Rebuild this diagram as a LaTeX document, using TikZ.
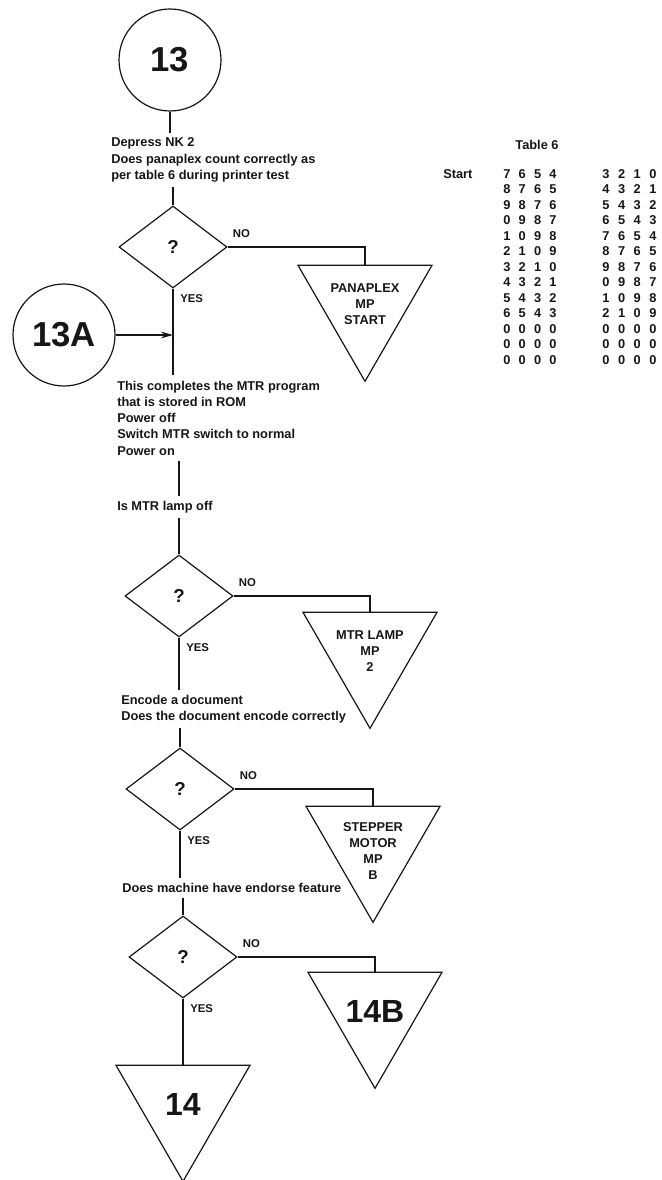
\documentclass[tikz,border=0pt]{standalone}
\usepackage{fontspec}
\setmainfont{Liberation Sans}
\usetikzlibrary{positioning,arrows.meta,shapes.geometric}
\definecolor{ink}{HTML}{161616}
\tikzset{
  flow/.style={line width=0.9pt, draw=ink},
  conn/.style={circle, draw=ink, line width=0.9pt, minimum size=76.5pt, inner sep=0pt,
    font=\bfseries\fontsize{26}{26}\selectfont, text=ink},
  ask/.style={diamond, draw=ink, line width=0.9pt, minimum width=81pt, minimum height=61.5pt,
    inner sep=0pt, font=\bfseries\fontsize{14}{14}\selectfont, text=ink},
  tri/.style={regular polygon, regular polygon sides=3, shape border rotate=180, draw=ink,
    line width=0.9pt, minimum size=116pt, inner sep=0pt, outer sep=0pt},
  trilab/.style={font=\bfseries\fontsize{9.6}{12}\selectfont, align=center, text=ink, inner sep=0pt},
  bignum/.style={font=\bfseries\fontsize{24}{24}\selectfont, text=ink, inner sep=0pt},
  txt/.style={font=\bfseries\fontsize{9.6}{12.2}\selectfont, align=left, text=ink,
    inner sep=0pt, outer ysep=4pt, anchor=west},
  yn/.style={font=\bfseries\fontsize{8.5}{8.5}\selectfont, text=ink, inner sep=0pt},
  tbl/.style={font=\bfseries\fontsize{9.6}{9.6}\selectfont, text=ink, inner sep=0pt},
  tip/.style={-{Stealth[length=9pt,width=5pt]}},
}
\begin{document}
\begin{tikzpicture}[x=0.75pt,y=-0.75pt]
  \useasboundingbox (0,0) rectangle (661,1180);

  % main column
  \node[conn] (c13) at (170,60) {13};
  \node[txt] (t1) at (111,160) {Depress NK 2\\Does panaplex count correctly as\\per table 6 during printer test};
  \node[ask] (q1) at (173,247) {?};
  \node[tri] (m1) at (365,304) {};
  \node[trilab] (m1t) at (m1.center) {PANAPLEX\\MP\\START};
  \node[conn] (c13a) at (64,335) {13A};
  \node[txt] (t2) at (117,418) {This completes the MTR program\\that is stored in ROM\\Power off\\Switch MTR switch to normal\\Power on};
  \node[txt] (t3) at (117,507) {Is MTR lamp off};
  \node[ask] (q2) at (179,596) {?};
  \node[tri] (m2) at (370,651) {};
  \node[trilab] (m2t) at (m2.center) {MTR LAMP\\MP\\2};
  \node[txt] (t4) at (121,709) {Encode a document\\Does the document encode correctly};
  \node[ask] (q3) at (180,789) {?};
  \node[tri] (m3) at (373,845) {};
  \node[trilab] (m3t) at ([shift={(0,6)}]m3.center) {STEPPER\\MOTOR\\MP\\B};
  \node[txt] (t5) at (122,888) {Does machine have endorse feature};
  \node[ask] (q4) at (183,957) {?};
  \node[tri] (m4) at (375,1011) {};
  \node[bignum] (m4t) at (m4.center) {14B};
  \node[tri] (m5) at (183,1104) {};
  \node[bignum] (m5t) at (m5.center) {14};

  % yes / no
  \foreach \q in {1,2,3,4} {
    \node[yn, anchor=south west] (no\q) at ([shift={(5,-9)}]q\q.east) {NO};
    \node[yn, anchor=north west] (yes\q) at ([shift={(7,6)}]q\q.south) {YES};
  }

  \draw[flow] (c13.south) -- (c13.south |- t1.north);
  \draw[flow] (q1.north |- t1.south) -- (q1.north);
  \draw[flow] (q1.east) -| (m1.north);
  \draw[flow] (q1.south) -- (q1.south |- t2.north);
  \draw[flow,tip] (c13a.east) -- (c13a.east -| q1.south);
  \draw[flow] (q2.north |- t2.south) -- (q2.north |- t3.north);
  \draw[flow] (q2.north |- t3.south) -- (q2.north);
  \draw[flow] (q2.east) -| (m2.north);
  \draw[flow] (q2.south) -- (q2.south |- t4.north);
  \draw[flow] (q3.north |- t4.south) -- (q3.north);
  \draw[flow] (q3.east) -| (m3.north);
  \draw[flow] (q3.south) -- (q3.south |- t5.north);
  \draw[flow] (q4.north |- t5.south) -- (q4.north);
  \draw[flow] (q4.east) -| (m4.north);
  \draw[flow] (q4.south) -- (m5.north);

  % table 6
  \node[tbl] (tab) at (537,145) {Table 6};
  \node[tbl, anchor=west] (start) at (443,174) {Start};
  \foreach \r/\a/\b in {0/{7,6,5,4}/{3,2,1,0}, 1/{8,7,6,5}/{4,3,2,1}, 2/{9,8,7,6}/{5,4,3,2},
                        3/{0,9,8,7}/{6,5,4,3}, 4/{1,0,9,8}/{7,6,5,4}, 5/{2,1,0,9}/{8,7,6,5},
                        6/{3,2,1,0}/{9,8,7,6}, 7/{4,3,2,1}/{0,9,8,7}, 8/{5,4,3,2}/{1,0,9,8},
                        9/{6,5,4,3}/{2,1,0,9}, 10/{0,0,0,0}/{0,0,0,0}, 11/{0,0,0,0}/{0,0,0,0},
                        12/{0,0,0,0}/{0,0,0,0}} {
    \foreach \v [count=\c from 0] in \a
      \node[tbl] (l-\r-\c) at (507+15.3*\c,174+15.5*\r) {\v};
    \foreach \v [count=\c from 0] in \b
      \node[tbl] (r-\r-\c) at (606+15.6*\c,174+15.5*\r) {\v};
  }
\end{tikzpicture}
\end{document}
